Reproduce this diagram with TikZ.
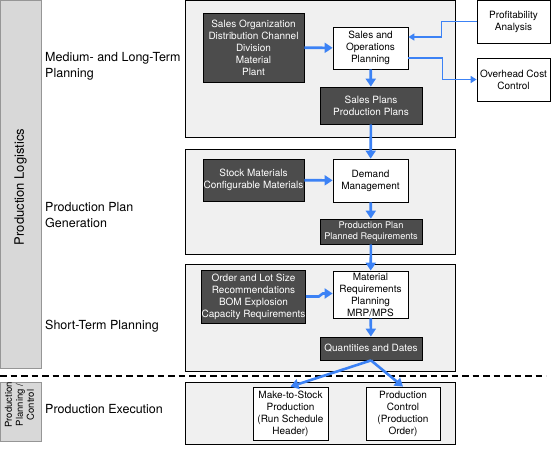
\documentclass[tikz,border=0pt]{standalone}
\usepackage{fontspec}
\setmainfont{TeX Gyre Heros}
\usetikzlibrary{shapes,arrows.meta}
\definecolor{pl_blue}{RGB}{60, 130, 245}
\definecolor{pl_dark}{RGB}{76, 76, 76}
\definecolor{pl_panel}{RGB}{240, 240, 240}
\definecolor{pl_bar}{RGB}{216, 216, 216}
\definecolor{pl_barline}{RGB}{150, 150, 150}
\tikzstyle{panel}=[rectangle,fill=pl_panel,draw=black,line width=0.8pt,
  inner sep=0pt,minimum width=270pt]
\tikzstyle{bar}=[rectangle,fill=pl_bar,draw=pl_barline,line width=0.8pt,
  inner sep=0pt,minimum width=40.5pt]
\tikzstyle{dn}=[rectangle,fill=pl_dark,draw=black,text=white,line width=0.8pt,
  inner sep=0pt,align=center,font=\fontsize{10}{12}\selectfont]
\tikzstyle{wn}=[rectangle,fill=white,draw=black,line width=0.8pt,
  inner sep=0pt,align=center,font=\fontsize{10}{12}\selectfont]
\tikzstyle{lbl}=[anchor=west,align=left,inner sep=0pt,
  font=\fontsize{12.5}{16}\selectfont]
\tikzstyle{flow}=[draw=pl_blue,line width=2.6pt,
  -{Triangle[length=8pt,width=10pt]}]
\tikzstyle{thinflow}=[draw=pl_blue,line width=1.6pt,
  -{Triangle[length=6pt,width=7pt]}]

\begin{document}
\begin{tikzpicture}[x=1pt,y=-1pt]
    \useasboundingbox (0,0) rectangle (551,451);
    \node [style=bar,minimum height=367.5pt] (30) at (20.75, 184.25) {};
    \node [style=bar,minimum height=59pt] (31) at (20.75, 411.5) {};
    \node [rotate=90,font=\fontsize{13}{16}\selectfont] (32) at (20.5, 187) {Production Logistics};
    \node [rotate=90,align=center,inner sep=0pt,font=\fontsize{9.5}{11}\selectfont] (33) at (19.5, 405) {Production\\Planning /\\Control};
    \draw [dashed,line width=1.6pt,dash pattern=on 6.5pt off 4pt] (0,376) -- (546,376);
    \node [style=panel,minimum height=136.5pt] (40) at (320, 68.75) {};
    \node [style=panel,minimum height=105pt] (41) at (320, 201.5) {};
    \node [style=panel,minimum height=107pt] (42) at (320, 317.5) {};
    \node [style=panel,minimum height=62pt] (43) at (320, 413) {};
    \node [style=lbl] (20) at (45, 66) {Medium- and Long-Term\\Planning};
    \node [style=lbl] (21) at (45, 215) {Production Plan\\Generation};
    \node [style=lbl] (22) at (45, 326) {Short-Term Planning};
    \node [style=lbl] (23) at (45, 409) {Production Execution};
    \node [style=dn,minimum width=101pt,minimum height=69pt] (1) at (253.5, 47.5) {Sales Organization\\Distribution Channel\\Division\\Material\\Plant};
    \node [style=wn,minimum width=75pt,minimum height=42pt] (2) at (370.5, 48) {Sales and\\Operations\\Planning};
    \node [style=dn,minimum width=102pt,minimum height=37pt] (3) at (371, 105.5) {Sales Plans\\Production Plans};
    \node [style=wn,minimum width=73pt,minimum height=43pt] (4) at (513.5, 21.5) {Profitability\\Analysis};
    \node [style=wn,minimum width=73pt,minimum height=43pt] (5) at (513.5, 79.5) {Overhead Cost\\Control};
    \node [style=dn,minimum width=101pt,minimum height=42pt] (6) at (253.5, 180) {Stock Materials\\Configurable Materials};
    \node [style=wn,minimum width=75pt,minimum height=43pt] (7) at (370.5, 180.5) {Demand\\Management};
    \node [style=dn,minimum width=102pt,minimum height=25pt,font=\fontsize{9.2}{11}\selectfont] (8) at (371, 231.5) {Production Plan\\Planned Requirements};
    \node [style=dn,minimum width=101pt,minimum height=53pt] (9) at (253.5, 296.5) {Order and Lot Size\\Recommendations\\BOM Explosion\\Capacity Requirements};
    \node [style=wn,minimum width=75pt,minimum height=47pt] (10) at (370.5, 294.5) {Material\\Requirements\\Planning\\MRP/MPS};
    \node [style=dn,minimum width=102pt,minimum height=23pt] (11) at (371, 348.5) {Quantities and Dates};
    \node [style=wn,minimum width=75pt,minimum height=53pt] (12) at (290.5, 413.5) {Make-to-Stock\\Production\\(Run Schedule\\Header)};
    \node [style=wn,minimum width=74pt,minimum height=53pt] (13) at (403, 413.5) {Production\\Control\\(Production\\Order)};
    \draw [style=flow] (1) to (2);
    \draw [style=thinflow] (4.west) -- ++(-35,0) |- ([yshift=11pt]2.east);
    \draw [style=thinflow] ([yshift=-10pt]2.east) -- ++(34,0) |- (5.west);
    \draw [style=flow] (2) to (3);
    \draw [style=flow] (3) to (7);
    \draw [style=flow] (6) to (7);
    \draw [style=flow] (7) to (8);
    \draw [style=flow] (8) to (10);
    \draw [style=flow] (9.east) -- ++(13,0) -- ++(4,-3) -- ([yshift=1pt]10.west);
    \draw [style=flow] (10) to (11);
    \draw [style=flow] (11.south) to (12.north);
    \draw [style=flow] (11.south) to (13.north);
  \end{tikzpicture}
\end{document}
